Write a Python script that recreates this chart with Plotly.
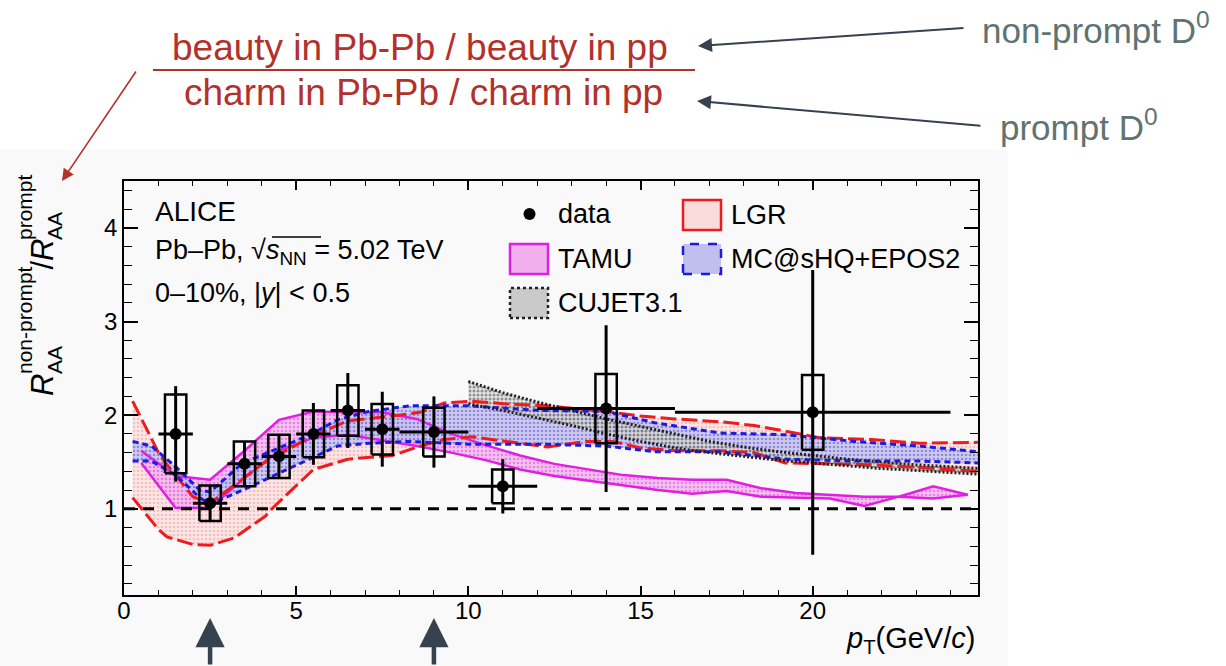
import plotly.graph_objects as go

# ---------------- data ----------------
pt = [1.5, 2.5, 3.5, 4.5, 5.5, 6.5, 7.5, 9.0, 11.0, 14.0, 20.0]
pt_half = [0.5, 0.5, 0.5, 0.5, 0.5, 0.5, 0.5, 1.0, 1.0, 2.0, 4.0]
ratio = [1.80, 1.06, 1.48, 1.56, 1.80, 2.05, 1.85, 1.82, 1.24, 2.07, 2.03]
stat = [0.51, 0.19, 0.23, 0.22, 0.33, 0.40, 0.40, 0.38, 0.29, 0.89, 1.52]
syst = [0.42, 0.19, 0.24, 0.23, 0.25, 0.27, 0.27, 0.26, 0.18, 0.37, 0.40]
syst_box_half = 0.31

tamu_pt = [0.5, 1.5, 2.5, 3.5, 4.5, 5.5, 6.5, 7.5, 8.5, 9.5, 10.5, 11.5, 12.5,
           13.5, 14.5, 15.5, 16.5, 17.5, 18.5, 19.5, 20.5, 21.5, 22.5, 23.5, 24.5]
tamu_lo = [1.49, 1.01, 1.01, 1.33, 1.62, 1.76, 1.79, 1.73, 1.67, 1.60, 1.52, 1.42, 1.35,
           1.30, 1.25, 1.20, 1.16, 1.19, 1.13, 1.12, 1.11, 1.03, 1.13, 1.11, 1.15]
tamu_hi = [1.62, 1.35, 1.31, 1.62, 1.95, 2.04, 2.03, 2.03, 1.96, 1.80, 1.68, 1.57, 1.48,
           1.42, 1.36, 1.33, 1.31, 1.31, 1.22, 1.17, 1.15, 1.13, 1.13, 1.24, 1.15]

lgr_pt = [0.25, 1.0, 1.25, 2.0, 2.5, 3.2, 4.1, 4.35, 5.5, 6.5, 7.8, 8.6, 9.3, 10.1, 11.1,
          12.3, 13.4, 14.2, 15.0, 16.0, 17.3, 18.3, 19.2, 20.2, 21.7, 23.1, 24.8]
lgr_lo = [1.12, 0.78, 0.70, 0.62, 0.61, 0.69, 0.92, 1.02, 1.42, 1.53, 1.57, 1.67, 1.74, 1.77,
          1.72, 1.66, 1.72, 1.72, 1.65, 1.62, 1.62, 1.60, 1.49, 1.48, 1.47, 1.44, 1.40]
lgr_hi = [2.15, 1.60, 1.47, 1.13, 1.06, 1.25, 1.50, 1.55, 1.78, 1.94, 1.99, 2.03, 2.13, 2.15,
          2.12, 2.10, 2.06, 2.03, 1.99, 1.96, 1.93, 1.89, 1.83, 1.76, 1.74, 1.70, 1.71]

mc_pt = [0.25, 0.8, 1.5, 2.2, 2.5, 3.45, 4.5, 5.4, 6.2, 7.1, 8.3, 10.0, 12.1, 14.0,
         15.4, 17.3, 19.25, 21.2, 23.1, 24.8]
mc_lo = [1.51, 1.51, 1.36, 1.12, 1.05, 1.20, 1.38, 1.53, 1.67, 1.70, 1.72, 1.69, 1.69, 1.67,
         1.61, 1.61, 1.53, 1.51, 1.51, 1.49]
mc_hi = [1.72, 1.67, 1.45, 1.20, 1.18, 1.49, 1.65, 1.79, 1.95, 2.04, 2.10, 2.10, 2.05, 2.04,
         1.92, 1.81, 1.79, 1.72, 1.67, 1.61]

cujet_pt = [10.0, 11.0, 12.0, 13.0, 14.0, 15.0, 16.0, 17.0, 18.0, 19.0, 20.0, 21.0,
            22.0, 23.0, 24.0, 24.8]
cujet_lo = [2.12, 2.05, 1.97, 1.89, 1.80, 1.72, 1.65, 1.60, 1.56, 1.52, 1.49, 1.46,
            1.43, 1.41, 1.39, 1.37]
cujet_hi = [2.36, 2.24, 2.14, 2.05, 1.96, 1.88, 1.80, 1.72, 1.66, 1.61, 1.57, 1.53,
            1.50, 1.47, 1.45, 1.43]

x_range = [0, 24.8]
y_range = [0.08, 4.5]
x_ticks = [0, 5, 10, 15, 20]
y_ticks = [1, 2, 3, 4]
unity = 1.0

# ---------------- page geometry ----------------
W, H = 1226, 666
ML, MR, MT, MB = 124, 248, 181, 71
PW = W - ML - MR
PH = H - MT - MB


def fx(px):
    return (px - ML) / PW


def fy(py):
    return (H - MB - py) / PH


FONT = "Liberation Sans"
RED_TXT = "#b3312b"
GREY_TXT = "#5f7371"
ARROW = "#36424f"

fig = go.Figure()


def band(x, lo, hi, bg, fg, solidity=0.35):
    xs = list(x) + list(x)[::-1]
    ys = list(hi) + list(lo)[::-1]
    return go.Scatter(x=xs, y=ys, mode="lines", fill="toself",
                      fillcolor=bg,
                      fillpattern=dict(shape=".", bgcolor=bg, fgcolor=fg,
                                       size=4, solidity=solidity),
                      line=dict(width=0), hoverinfo="skip", showlegend=False)


def edge(x, y, color, dash, width):
    return go.Scatter(x=x, y=y, mode="lines",
                      line=dict(color=color, dash=dash, width=width),
                      hoverinfo="skip", showlegend=False)


# model bands
fig.add_trace(band(lgr_pt, lgr_lo, lgr_hi, "rgba(252,228,228,0.85)", "rgba(232,120,120,0.7)"))
fig.add_trace(band(tamu_pt, tamu_lo, tamu_hi, "rgba(242,176,238,0.75)", "rgba(205,50,205,0.85)"))
fig.add_trace(band(mc_pt, mc_lo, mc_hi, "rgba(196,196,238,0.8)", "rgba(60,60,215,0.85)"))
fig.add_trace(band(cujet_pt, cujet_lo, cujet_hi, "rgba(220,220,220,0.7)", "rgba(40,40,40,0.9)", 0.45))

# model edges
fig.add_trace(edge(tamu_pt, tamu_lo, "#e020e0", "solid", 2.5))
fig.add_trace(edge(tamu_pt, tamu_hi, "#e020e0", "solid", 2.5))
fig.add_trace(edge(lgr_pt, lgr_lo, "#ee1c1c", "16px,5px", 3))
fig.add_trace(edge(lgr_pt, lgr_hi, "#ee1c1c", "16px,5px", 3))
fig.add_trace(edge(mc_pt, mc_lo, "#1c1ce0", "6px,4px", 3))
fig.add_trace(edge(mc_pt, mc_hi, "#1c1ce0", "6px,4px", 3))
fig.add_trace(edge(cujet_pt, cujet_lo, "#222222", "2px,2px", 3))
fig.add_trace(edge(cujet_pt, cujet_hi, "#222222", "2px,2px", 3))

# unity reference line
fig.add_trace(go.Scatter(x=x_range, y=[unity, unity], mode="lines",
                         line=dict(color="black", dash="11px,8px", width=3),
                         hoverinfo="skip", showlegend=False))

# systematic uncertainty boxes
bx, by = [], []
for x, y, s in zip(pt, ratio, syst):
    bx += [x - syst_box_half, x + syst_box_half, x + syst_box_half,
           x - syst_box_half, x - syst_box_half, None]
    by += [y - s, y - s, y + s, y + s, y - s, None]
fig.add_trace(go.Scatter(x=bx, y=by, mode="lines",
                         line=dict(color="black", width=2.5),
                         hoverinfo="skip", showlegend=False))

# data points with statistical uncertainties
fig.add_trace(go.Scatter(
    x=pt, y=ratio, mode="markers",
    marker=dict(color="black", size=12, symbol="circle"),
    error_y=dict(type="data", array=stat, color="black", thickness=3, width=0),
    error_x=dict(type="data", array=pt_half, color="black", thickness=3, width=0),
    showlegend=False))

shapes = []
# background of the embedded figure
shapes.append(dict(type="rect", xref="paper", yref="paper", layer="below",
                   x0=fx(0), x1=fx(1008), y0=fy(150), y1=fy(666),
                   fillcolor="#f9f9f9", line=dict(width=0)))


# legend swatches
def swatch(x0, y0, x1, y1, fill, color, dash, width):
    return dict(type="rect", xref="paper", yref="paper",
                x0=fx(x0), x1=fx(x1), y0=fy(y1), y1=fy(y0),
                fillcolor=fill, line=dict(color=color, dash=dash, width=width))


shapes.append(swatch(683, 200, 721, 230, "#f8dcdc", "#ee1c1c", "solid", 2.5))
shapes.append(swatch(510, 244, 548, 274, "#efb0ec", "#e020e0", "solid", 2.5))
shapes.append(swatch(683, 244, 721, 274, "#c0c0ee", "#1c1ce0", "dash", 2.5))
shapes.append(swatch(510, 288, 548, 318, "#cacaca", "#222222", "dot", 2.5))
# legend marker for the data points
shapes.append(dict(type="circle", xref="paper", yref="paper",
                   x0=fx(523.5), x1=fx(535.5), y0=fy(220), y1=fy(208),
                   fillcolor="black", line=dict(color="black", width=0)))

# overline of the square root
shapes.append(dict(type="line", xref="paper", yref="paper",
                   x0=fx(272), x1=fx(321), y0=fy(237), y1=fy(237),
                   line=dict(color="black", width=1.3)))

# fraction bar
shapes.append(dict(type="line", xref="paper", yref="paper",
                   x0=fx(153), x1=fx(695), y0=fy(70), y1=fy(70),
                   line=dict(color=RED_TXT, width=2)))

ann = []


def text(px, py, s, size, color="black", xanchor="left", yanchor="middle", angle=0):
    ann.append(dict(x=fx(px), y=fy(py), xref="paper", yref="paper", text=s,
                    showarrow=False, xanchor=xanchor, yanchor=yanchor,
                    textangle=angle, font=dict(family=FONT, size=size, color=color)))


# headline text
text(420, 48, "beauty in Pb-Pb / beauty in pp", 37, RED_TXT, "center")
text(423, 93, "charm in Pb-Pb / charm in pp", 37, RED_TXT, "center")
text(980, 28, "non-prompt D<sup>0</sup>", 35, GREY_TXT)
text(998, 125, "prompt D<sup>0</sup>", 35, GREY_TXT)

# in-plot labels
text(153, 211, "ALICE", 28)
text(153, 252, "Pb\u2013Pb, \u221a<i>s</i><sub>NN</sub> = 5.02 TeV", 27)
text(153, 293, "0\u201310%, |<i>y</i>| < 0.5", 27)

# legend labels
text(556, 214, "data", 27)
text(729, 215, "LGR", 27)
text(556, 259, "TAMU", 27)
text(729, 259, "MC@sHQ+EPOS2", 27)
text(556, 303, "CUJET3.1", 27)

# axis titles
text(977, 640, "<i>p</i><sub>T</sub>(GeV/<i>c</i>)", 29, xanchor="right")
text(42, 398, "<i>R</i>", 31, yanchor="bottom", xanchor="center", angle=-90)
text(54, 376, "AA", 21, yanchor="bottom", xanchor="center", angle=-90)
text(24, 376, "non-prompt", 21, yanchor="bottom", xanchor="center", angle=-90)
text(42, 272, "/<i>R</i>", 31, yanchor="bottom", xanchor="center", angle=-90)
text(54, 242, "AA", 21, yanchor="bottom", xanchor="center", angle=-90)
text(24, 242, "prompt", 21, yanchor="bottom", xanchor="center", angle=-90)


# arrows
def arrow(tipx, tipy, tailx, taily, color, width, size, head=2, xref="paper", xval=None):
    ann.append(dict(x=fx(tipx) if xval is None else xval, y=fy(tipy),
                    xref=xref, yref="paper", text="",
                    showarrow=True, arrowhead=head, arrowsize=size, arrowwidth=width,
                    arrowcolor=color, ax=tailx - tipx, ay=taily - tipy,
                    axref="pixel", ayref="pixel", standoff=0, startstandoff=0))


arrow(698, 46, 965, 28, ARROW, 2, 1.4)
arrow(697, 101, 982, 126, ARROW, 2, 1.4)
arrow(62, 181, 137, 70, RED_TXT, 1.6, 1.5)
arrow(210, 618, 210, 670, ARROW, 4.5, 1.3, xref="x", xval=pt[1])
arrow(434, 618, 434, 670, ARROW, 4.5, 1.3, xref="x", xval=pt[7])

fig.update_layout(
    width=W, height=H,
    margin=dict(l=ML, r=MR, t=MT, b=MB, pad=0),
    paper_bgcolor="white", plot_bgcolor="rgba(0,0,0,0)",
    shapes=shapes, annotations=ann, showlegend=False,
    font=dict(family=FONT, size=24, color="black"),
)

fig.update_layout(
    xaxis=dict(range=x_range, tickmode="array", tickvals=x_ticks,
               ticktext=[str(v) for v in x_ticks],
               tickfont=dict(family=FONT, size=24, color="black"),
               showgrid=False, zeroline=False, showline=True, linecolor="black",
               linewidth=1.5, mirror="allticks", ticks="inside", tickcolor="black",
               ticklen=9, tickwidth=1.5, ticklabelstandoff=-7,
               minor=dict(ticks="inside", dtick=1, tick0=0, ticklen=5,
                          tickcolor="black", tickwidth=1)),
    yaxis=dict(range=y_range, tickmode="array", tickvals=y_ticks,
               ticktext=[str(v) for v in y_ticks],
               tickfont=dict(family=FONT, size=24, color="black"),
               showgrid=False, zeroline=False, showline=True, linecolor="black",
               linewidth=1.5, mirror="allticks", ticks="inside", tickcolor="black",
               ticklen=14, tickwidth=2,
               minor=dict(ticks="inside", dtick=0.2, tick0=0, ticklen=8,
                          tickcolor="black", tickwidth=1)),
)

fig.write_html("out.html")
